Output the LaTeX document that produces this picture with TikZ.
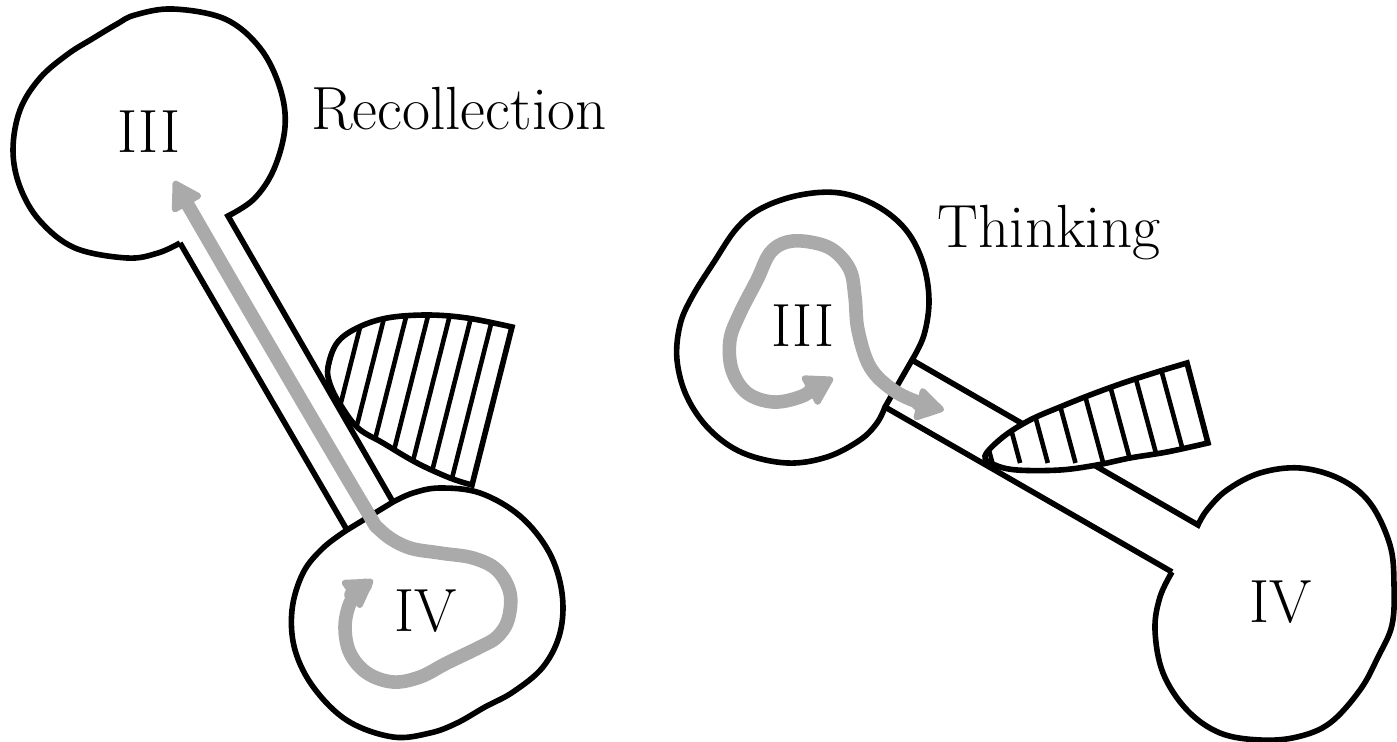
\documentclass[tikz,border=0pt]{standalone}
\usetikzlibrary{arrows.meta}
\definecolor{grayA}{RGB}{170,170,170}
\tikzset{
  outline/.style={draw=black, line width=2.8pt},
  hatchln/.style={draw=black, line width=2.3pt},
  garrow/.style={draw=grayA, line width=6.8pt, line cap=round, line join=round,
    {Triangle[length=15.5pt,width=18pt,round,line width=3pt]}-{Triangle[length=15.5pt,width=18pt,round,line width=3pt]}},
  lbl/.style={inner sep=0pt, anchor=base, font=\fontsize{30.5}{36}\selectfont},
}
\def\hatchL{plot[smooth, tension=0.6] coordinates {(512,327) (467,318) (427,315) (387,318) (357,328) (337,343) (328,367) (330,384) (340,404) (358,428) (383,443) (417,463) (450,478) (472,485)} -- cycle}
\def\hatchR{plot[smooth, tension=0.6] coordinates {(1187,363) (1157,372) (1123,383) (1090,395) (1060,407) (1030,420) (1003,437) (985,456) (995,465) (1017,470) (1060,470) (1097,465) (1130,458) (1167,452) (1208,443)} -- cycle}
\begin{document}
\begin{tikzpicture}[x=0.5pt,y=-0.5pt]
\useasboundingbox (0,0) rectangle (1397,742);

% ---------- left figure: Recollection ----------
\draw[outline] (347,530) -- (180,243)
  plot[smooth, tension=0.6] coordinates {(180,243) (158,253) (127,258) (75,248) (40,221) (20,187) (13,150) (20,110) (40,78) (68,54) (92,39) (117,24) (135,15) (173,9) (225,19) (260,48) (280,88) (285,127) (274,169) (254,199) (228,216)}
  -- (393,502)
  plot[smooth, tension=0.6] coordinates {(393,502) (413,493) (440,488) (480,493) (520,516) (549,552) (562,593) (560,633) (543,667) (513,692) (485,707) (457,723) (430,733) (393,737) (348,721) (314,688) (295,650) (292,610) (303,573) (323,548) (347,530)}
  -- cycle;

\begin{scope}
  \path[fill=white] \hatchL;
  \clip \hatchL;
  \foreach \k in {1,...,9} \draw[hatchln] ({512-21.7*\k},327) ++(50,-197.5) -- ++(-100,395);
\end{scope}
\draw[outline] \hatchL;

\draw[garrow] plot[smooth, tension=0.6] coordinates {(174,181) (268,343) (362,503) (380,530) (407,547) (440,553) (473,558) (497,570) (510,593) (508,620) (497,637) (480,647) (447,663) (420,677) (393,682) (367,673) (350,653) (345,627) (350,603) (360,590) (373,580)};

\node[lbl] (lIII) at (149,153) {III};
\node[lbl] (lIV) at (426,632) {IV};
\node[lbl] (rec) at (459,130) {Recollection};

% ---------- right figure: Thinking ----------
\draw[outline] (885,407) -- (1172,572)
  plot[smooth, tension=0.6] coordinates {(1172,572) (1160,597) (1155,630) (1163,673) (1187,710) (1220,733) (1260,740) (1297,737) (1330,723) (1360,690) (1378,657) (1392,625) (1394,585) (1390,545) (1370,503) (1340,479) (1300,468) (1260,473) (1227,490) (1207,510) (1198,525)}
  -- (912,360)
  plot[smooth, tension=0.6] coordinates {(912,360) (924,335) (929,300) (923,263) (906,230) (877,206) (840,193) (800,195) (762,208) (737,228) (714,262) (692,297) (680,325) (677,360) (687,397) (710,430) (743,453) (787,463) (827,457) (860,440) (877,423) (885,407)}
  -- cycle;

\begin{scope}
  \path[fill=white] \hatchR;
  \clip \hatchR;
  \foreach \k in {1,...,9} \draw[hatchln] ({1187-27.7*\k},363) ++(-27,-100) -- ++(54,200);
\end{scope}
\draw[outline] \hatchR;

\draw[garrow] plot[smooth, tension=0.6] coordinates {(833,378) (817,387) (800,397) (773,402) (747,393) (732,370) (730,340) (740,313) (757,280) (770,253) (787,242) (810,242) (833,250) (850,270) (855,297) (858,330) (870,367) (893,390) (920,403) (944,410)};

\node[lbl] (rIII) at (803,347) {III};
\node[lbl] (rIV) at (1281,622) {IV};
\node[lbl] (think) at (1049,248) {Thinking};
\end{tikzpicture}
\end{document}
